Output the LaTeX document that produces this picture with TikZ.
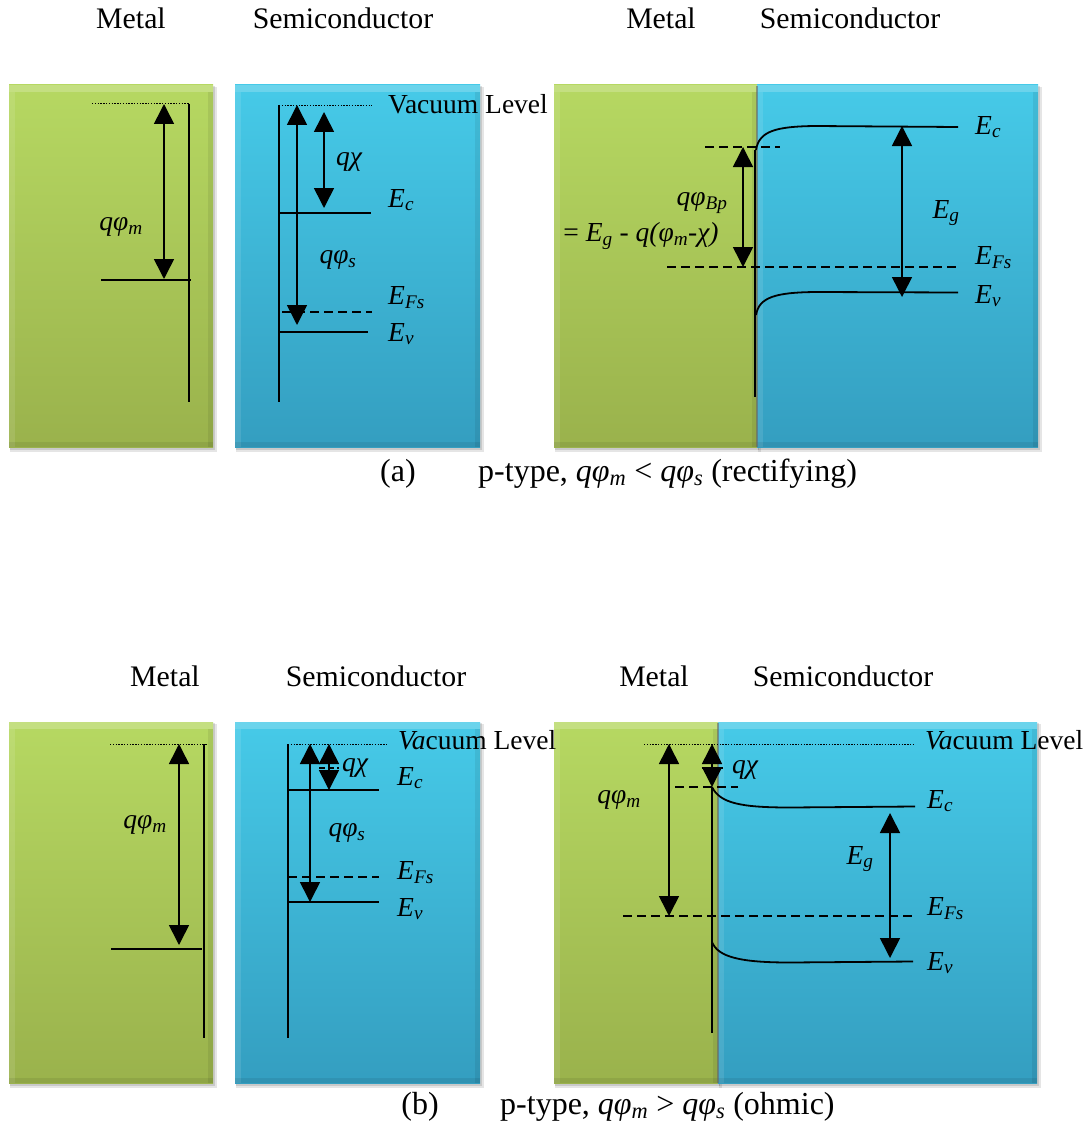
\documentclass[tikz,border=0pt]{standalone}
\usepackage{fontspec}
\setmainfont{Liberation Serif}
\usetikzlibrary{arrows.meta}
\definecolor{gtop}{RGB}{182,216,98}
\definecolor{gbot}{RGB}{154,178,76}
\definecolor{btop}{RGB}{70,202,232}
\definecolor{bbot}{RGB}{52,158,192}
\newcommand\sbs[1]{\textsubscript{#1}}
\newcommand\slab[6]{%
  \fill[black,opacity=0.10] (#1+1,#2+2) rectangle (#3+4,#4+5);
  \fill[black,opacity=0.12] (#1+1,#2+1) rectangle (#3+2,#4+2.5);
  \shade[top color=#5,bottom color=#6] (#1,#2) rectangle (#3,#4);
  \fill[white,opacity=0.20] (#1,#2) rectangle (#3,#2+7);
  \fill[white,opacity=0.10] (#1,#2+7) rectangle (#1+6,#4);
  \fill[black,opacity=0.07] (#3-5,#2+7) rectangle (#3,#4);
  \fill[black,opacity=0.07] (#1,#4-5) rectangle (#3,#4);
}
\begin{document}
\begin{tikzpicture}[x=1pt,y=-1pt,
  hdr/.style={font=\fontsize{29.8}{32}\selectfont, inner sep=0pt},
  captxt/.style={font=\fontsize{32}{34}\selectfont, inner sep=0pt},
  lbl/.style={font=\fontsize{27.5}{29}\selectfont\itshape, inner sep=0pt},
  vac/.style={font=\fontsize{27.5}{29}\selectfont, inner sep=0pt, anchor=west},
  lev/.style={line width=1.8pt},
  dlev/.style={line width=1.6pt, dash pattern=on 9pt off 5pt},
  vlev/.style={line width=1pt, dash pattern=on 1.4pt off 1.4pt},
  arr/.style={line width=1.6pt, {Triangle[width=20pt,length=20pt]}-{Triangle[width=20pt,length=20pt]}}
]
\useasboundingbox (0,0) rectangle (1091,1129);

% ---------- boxes ----------
\slab{9}{85}{213}{447}{gtop}{gbot}
\slab{235}{85}{480}{447}{btop}{bbot}
\slab{554}{85}{757}{447}{gtop}{gbot}
\slab{757}{85}{1038}{447}{btop}{bbot}
\draw[black!60,opacity=0.6,line width=1.5pt] (757,86) -- (757,447);
\slab{9}{722}{213}{1083}{gtop}{gbot}
\slab{235}{722}{480}{1083}{btop}{bbot}
\slab{554}{722}{718}{1083}{gtop}{gbot}
\slab{718}{722}{1037}{1083}{btop}{bbot}
\draw[black!60,opacity=0.6,line width=1.5pt] (718,723) -- (718,1083);

% ---------- headers ----------
\node[hdr] (h1) at (131,18) {Metal};
\node[hdr] (h2) at (343,18) {Semiconductor};
\node[hdr] (h3) at (661,18) {Metal};
\node[hdr] (h4) at (850,18) {Semiconductor};
\node[hdr] (h5) at (165,676) {Metal};
\node[hdr] (h6) at (376,676) {Semiconductor};
\node[hdr] (h7) at (654,676) {Metal};
\node[hdr] (h8) at (843,676) {Semiconductor};

% ---------- (a) left: metal ----------
\draw[vlev] (92,104) -- (189,104);
\draw[lev] (189,104) -- (189,402);
\draw[lev] (101,280) -- (191,280);
\draw[arr] (164,104) -- (164,279);
\node[lbl] (qpm1) at (121,227) {qφ\sbs{m}};

% ---------- (a) left: semiconductor ----------
\draw[vlev] (279,106) -- (372,106);
\draw[lev] (279,105) -- (279,402);
\draw[lev] (279,213) -- (371,213);
\draw[dlev] (282,312) -- (372,312);
\draw[lev] (279,332) -- (368,332);
\draw[arr] (297,105) -- (297,325);
\draw[arr] (324,112) -- (324,208);
\node[vac] (vl1) at (388,104) {Vacuum Level};
\node[lbl] (qchi1) at (349,162) {qχ};
\node[lbl] (qps1) at (338,260) {qφ\sbs{s}};
\node[lbl,anchor=west] (ec1) at (388,200) {E\sbs{c}};
\node[lbl,anchor=west] (ef1) at (388,298) {E\sbs{Fs}};
\node[lbl,anchor=west] (ev1) at (388,334) {E\sbs{v}};

% ---------- (a) right: contact ----------
\draw[lev] (756,150) .. controls (759,131) and (776,126.5) .. (815,126) -- (958,127);
\draw[lev] (756,315) .. controls (759,297) and (776,292.5) .. (815,292) -- (958,292.5);
\draw[dlev] (705,147) -- (780,147);
\draw[dlev] (667,267) -- (958,267);
\draw[lev] (755,150) -- (755,397);
\draw[arr] (743,147) -- (743,267);
\draw[arr] (902,126) -- (902,297);
\node[lbl] (qpb) at (702,203) {qφ\sbs{Bp}};
\node[lbl] (eqn) at (641,236) {\upshape= \itshape E\sbs{g} \upshape- \itshape q(φ\sbs{m}-χ)};
\node[lbl] (eg1) at (946,213) {E\sbs{g}};
\node[lbl,anchor=west] (ec2) at (975,127) {E\sbs{c}};
\node[lbl,anchor=west] (ef2) at (975,258) {E\sbs{Fs}};
\node[lbl,anchor=west] (ev2) at (975,296) {E\sbs{v}};

% ---------- caption (a) ----------
\node[captxt] (ca) at (398,474) {(a)};
\node[captxt,anchor=west] (cat) at (478,474) {p-type, \textit{qφ}\textsubscript{\textit{m}} < \textit{qφ}\textsubscript{\textit{s}} (rectifying)};

% ---------- (b) left: metal ----------
\draw[vlev] (110,744) -- (207,744);
\draw[lev] (204,744) -- (204,1038);
\draw[lev] (111,949) -- (202,949);
\draw[arr] (179,744) -- (179,945);
\node[lbl] (qpm2) at (145,825) {qφ\sbs{m}};

% ---------- (b) left: semiconductor ----------
\draw[vlev] (288,744) -- (387,744);
\draw[lev] (288,744) -- (288,1038);
\draw[lev] (288,790) -- (379,790);
\draw[dlev] (288,877) -- (379,877);
\draw[lev] (288,902) -- (379,902);
\draw[arr] (310,744) -- (310,902);
\draw[arr] (329,744) -- (329,790);
\draw[line width=1.2pt, dash pattern=on 6pt off 3pt] (319,768) -- (339,768);
\node[vac] (vl2) at (398,740) {\textit{Va}cuum Level};
\node[lbl] (qchi2) at (355,768) {qχ};
\node[lbl] (qps2) at (347,833) {qφ\sbs{s}};
\node[lbl,anchor=west] (ec3) at (397,778) {E\sbs{c}};
\node[lbl,anchor=west] (ef3) at (397,873) {E\sbs{Fs}};
\node[lbl,anchor=west] (ev3) at (397,909) {E\sbs{v}};

% ---------- (b) right: contact ----------
\draw[vlev] (644,744) -- (913,744);
\draw[dlev] (675,787) -- (738,787);
\draw[dlev] (623,916) -- (913,916);
\draw[lev] (712,787) .. controls (720,803) and (740,807.5) .. (790,807.5) -- (915,806.5);
\draw[lev] (712,942) .. controls (718,957) and (740,962.5) .. (790,962.5) -- (913,961.5);
\draw[lev] (712,787) -- (712,1033);
\draw[arr] (669,744) -- (669,916);
\draw[arr] (712,744) -- (712,787);
\draw[line width=1.2pt, dash pattern=on 6pt off 3pt] (702,768) -- (723,768);
\draw[arr] (890,813) -- (890,958);
\node[vac] (vl3) at (925,740) {\textit{Va}cuum Level};
\node[lbl] (qpm3) at (619,800) {qφ\sbs{m}};
\node[lbl] (qchi3) at (745,770) {qχ};
\node[lbl] (eg2) at (860,859) {E\sbs{g}};
\node[lbl,anchor=west] (ec4) at (927,801) {E\sbs{c}};
\node[lbl,anchor=west] (ef4) at (927,909) {E\sbs{Fs}};
\node[lbl,anchor=west] (ev4) at (927,963) {E\sbs{v}};

% ---------- caption (b) ----------
\node[captxt] (cb) at (420,1107) {(b)};
\node[captxt,anchor=west] (cbt) at (500,1107) {p-type, \textit{qφ}\textsubscript{\textit{m}} > \textit{qφ}\textsubscript{\textit{s}} (ohmic)};
\end{tikzpicture}
\end{document}
